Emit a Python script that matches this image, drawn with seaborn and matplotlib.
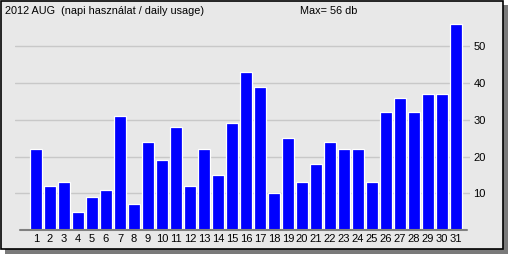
import matplotlib
matplotlib.use("Agg")
import matplotlib.pyplot as plt
import seaborn as sns
import pandas as pd
from matplotlib.patches import Rectangle

days = [str(i) for i in range(1, 32)]
values = [22, 12, 13, 5, 9, 11, 31, 7, 24, 19, 28, 12, 22, 15, 29, 43, 39, 10,
          25, 13, 18, 24, 22, 22, 13, 32, 36, 32, 37, 37, 56]
yticks = [10, 20, 30, 40, 50]
title = "2012 AUG  (napi használat / daily usage)"
max_label = "Max= 56 db"

sns.set_theme(style="white")
plt.rcParams['font.family'] = ['Liberation Sans', 'DejaVu Sans']

W, H = 508, 254
fig = plt.figure(figsize=(W / 100, H / 100), dpi=100)
fig.patch.set_facecolor("white")

# shadow and frame
fig.patches.append(Rectangle((5 / W, 0), (W - 5) / W, (H - 5) / H,
                             transform=fig.transFigure, facecolor="#7a7a7a",
                             edgecolor="none", zorder=-2))
fig.patches.append(Rectangle((1 / W, 5 / H), (W - 6) / W, (H - 6) / H,
                             transform=fig.transFigure, facecolor="#e8e8e8",
                             edgecolor="black", linewidth=1.2, zorder=-1))

left, right = 15, 470
top, zero = 20, 230.0
ax = fig.add_axes([left / W, (H - zero) / H, (right - left) / W, (zero - top) / H])
ax.set_zorder(2)
ax.set_facecolor("none")

df = pd.DataFrame({"day": days, "value": values})
sns.barplot(data=df, x="day", y="value", color="#0000ff", saturation=1,
            width=0.8, edgecolor="white", linewidth=0.9, ax=ax, zorder=3)

ax.set_xlim(-1.5, 31.0)
ax.set_ylim(0, (zero - top) / 3.675)
for s in ax.spines.values():
    s.set_visible(False)
ax.set_yticks(yticks)
ax.yaxis.tick_right()
ax.tick_params(axis="y", length=0, pad=2.5, labelsize=8, labelcolor="black")
ax.tick_params(axis="x", length=0, pad=3, labelsize=8, labelcolor="black")
ax.set_xlabel("")
ax.set_ylabel("")
for t in yticks:
    ax.axhline(t, color="#c8c8c8", linewidth=1.0, zorder=1)
ax.axhline(0, xmin=5 / (right - left), xmax=452 / (right - left),
           color="#808080", linewidth=1.5, zorder=4, clip_on=False)

fig.text(5 / W, 1 - 14 / H, title, fontsize=7.8, color="black", va="baseline", ha="left")
fig.text(300 / W, 1 - 14 / H, max_label, fontsize=7.8, color="black", va="baseline", ha="left")

fig.savefig("out.png", dpi=100)
